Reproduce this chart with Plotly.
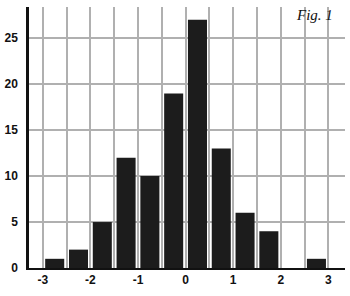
import plotly.graph_objects as go

bin_centers = [-2.75, -2.25, -1.75, -1.25, -0.75, -0.25, 0.25, 0.75, 1.25, 1.75, 2.25, 2.75]
counts = [1, 2, 5, 12, 10, 19, 27, 13, 6, 4, 0, 1]
x_ticks = [-3, -2, -1, 0, 1, 2, 3]
x_tick_labels = ["-3", "-2", "-1", "0", "1", "2", "3"]
y_ticks = [0, 5, 10, 15, 20, 25]
grid_lines_x = [-3 + 0.5 * i for i in range(13)]

fig = go.Figure()
fig.add_trace(go.Bar(
    x=bin_centers, y=counts, width=0.4,
    marker=dict(color="#1c1c1c", line=dict(width=0)),
))

fig.update_layout(
    width=350, height=296,
    margin=dict(l=29, r=5, t=7, b=28),
    paper_bgcolor="white", plot_bgcolor="white",
    showlegend=False,
    font=dict(family="Liberation Sans, Arial, sans-serif", size=12, color="#111"),
    annotations=[dict(
        text="<i>Fig. 1</i>", x=1.0, y=1.0, xref="paper", yref="paper",
        xanchor="right", yanchor="top", xshift=-10, yshift=2, showarrow=False,
        font=dict(family="Liberation Serif, Times New Roman, serif", size=15, color="#111"),
    )],
)
fig.update_xaxes(
    range=[-3.29, 3.35], tickvals=x_ticks, ticktext=x_tick_labels,
    showgrid=False,
    minor=dict(tickvals=grid_lines_x, showgrid=True, gridcolor="#b0b0b0", gridwidth=1.5),
    showline=True, linecolor="#111", linewidth=2,
    zeroline=False, ticks="",
    tickfont=dict(size=12, color="#111", weight="bold"),
)
fig.update_yaxes(
    range=[0, 28.4], tickvals=y_ticks,
    showgrid=True, gridcolor="#b0b0b0", gridwidth=1.5,
    showline=True, linecolor="#111", linewidth=2.5,
    zeroline=False, ticks="", ticklabelstandoff=6,
    tickfont=dict(size=12, color="#111", weight="bold"),
)

fig.write_html("out.html")
